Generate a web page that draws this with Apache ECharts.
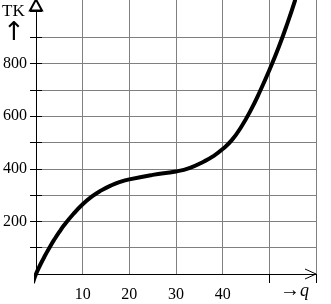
<!DOCTYPE html>
<html><head><meta charset="utf-8">
<script src="https://cdn.jsdelivr.net/npm/echarts@6/dist/echarts.min.js"></script>
<style>html,body{margin:0;padding:0;background:#fff}#c{width:331px;height:304px}</style>
</head><body><div id="c"></div>
<script>
// Data (q -> total cost TK)
const qValues  = [-0.6, 0, 1, 2, 3, 4, 5, 6, 8, 10, 12, 14, 16, 18, 20, 25, 30, 33, 36, 38, 40, 42, 44, 46, 48, 50, 52, 54, 55.5];
const tcValues = [-30, 0, 38, 72, 104, 133, 160, 185, 228, 265, 295, 318, 336, 350, 360, 377, 390, 404, 428, 448, 475, 510, 560, 622, 695, 775, 862, 960, 1040];
const xLabelValues = [10, 20, 30, 40];
const xTickValues = [50, 60];
const yLabelValues = [200, 400, 600, 800];
const yTickValues = [100, 200, 300, 400, 500, 600, 700, 800, 900, 1000];
const yTitle = 'TK';
const yArrow = '↑';
const xTitle = 'q';

const font = '"Liberation Serif", "DejaVu Serif", serif';
const chart = echarts.init(document.getElementById('c'), null, {renderer: 'canvas'});
const option = {
  animation: false,
  grid: {left: 36, right: 15, top: 0, bottom: 30},
  xAxis: [{
    type: 'value', min: 0, max: 60, interval: 10, position: 'bottom',
    axisLine: {onZero: false, lineStyle: {color: '#000', width: 1}},
    axisTick: {show: false},
    axisLabel: {customValues: xLabelValues, margin: 13, color: '#000', fontFamily: font, fontSize: 16},
    splitLine: {show: true, lineStyle: {color: '#808080', width: 1}}
  }, {
    type: 'value', min: 0, max: 60, interval: 10, position: 'bottom',
    axisLine: {show: false, onZero: false},
    axisTick: {show: true, customValues: xTickValues, length: 9, lineStyle: {color: '#000'}},
    axisLabel: {show: false},
    splitLine: {show: false}
  }],
  yAxis: [{
    type: 'value', min: 0, max: 1042, interval: 100, position: 'left',
    axisLine: {show: true, onZero: false, symbol: ['none', 'emptyTriangle'], symbolSize: [12, 11], symbolOffset: [0, -5],
      lineStyle: {color: '#000', width: 1}},
    axisTick: {show: true, customValues: yTickValues, length: 6, lineStyle: {color: '#000'}},
    axisLabel: {customValues: yLabelValues, margin: 9, color: '#000', fontFamily: font, fontSize: 16},
    splitLine: {show: true, showMaxLine: false, lineStyle: {color: '#808080', width: 1}}
  }, {
    type: 'value', min: 0, max: 1042, interval: 100, position: 'left',
    axisLine: {show: false},
    axisTick: {show: true, inside: true, customValues: yTickValues, length: 6, lineStyle: {color: '#000'}},
    axisLabel: {show: false},
    splitLine: {show: false}
  }],
  series: [{
    type: 'line', xAxisIndex: 0, yAxisIndex: 0,
    data: qValues.map((q, i) => [q, tcValues[i]]),
    showSymbol: false, smooth: 0.5, clip: false,
    lineStyle: {color: '#000', width: 4, cap: 'round', join: 'round'}
  }]
};
chart.setOption(option);
const p = chart.convertToPixel({xAxisIndex: 0, yAxisIndex: 0}, [60, 0]);
chart.setOption({
  graphic: [
    {type: 'polyline', shape: {points: [[p[0] - 11, p[1] - 5], [p[0], p[1]], [p[0] - 11, p[1] + 5]]},
      style: {stroke: '#000', fill: null, lineWidth: 1}, z: 10},
    {type: 'text', left: 2, top: 3, style: {text: yTitle, font: '17px ' + font, fill: '#000'}},
    {type: 'text', left: 3, top: 20, style: {text: yArrow, font: '26px "DejaVu Sans", sans-serif', fill: '#000'}},
    {type: 'text', left: 280, top: 281, style: {
      text: '{a|→}{b|' + xTitle + '}',
      rich: {a: {fontFamily: font, fontSize: 20, fill: '#000'}, b: {fontFamily: font, fontSize: 18, fontStyle: 'italic', fill: '#000'}}
    }}
  ]
});
</script>
</body></html>
